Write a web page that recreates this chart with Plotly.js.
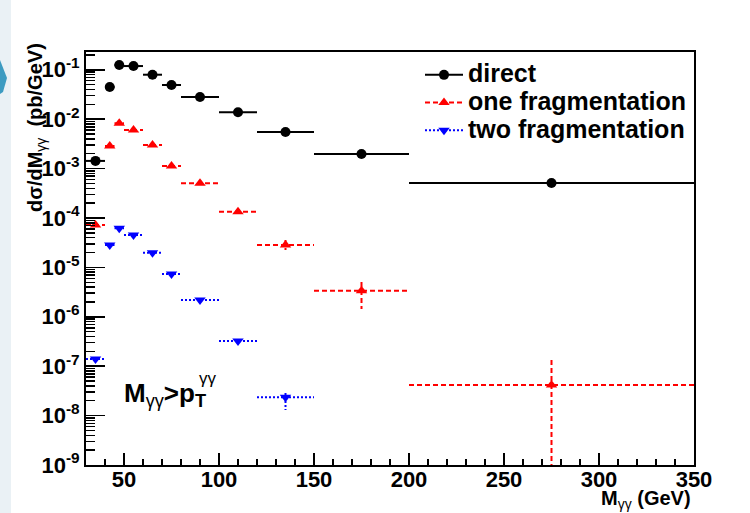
<!DOCTYPE html>
<html><head><meta charset="utf-8">
<script src="https://cdn.plot.ly/plotly-3.0.1.min.js"></script>
<style>html,body{margin:0;padding:0;background:#fff;} #chart{width:750px;height:513px;}</style>
</head><body><div id="chart"></div>
<script>
// ---- data ----
const binLow    = [30, 40, 45, 50, 60, 70, 80, 100, 120, 150, 200];
const binHigh   = [40, 45, 50, 60, 70, 80, 100, 120, 150, 200, 350];
const binCenter = [35, 42.5, 47.5, 55, 65, 75, 90, 110, 135, 175, 275];

const directY = [1.43e-3, 0.0448, 0.125, 0.119, 0.0795, 0.0492, 0.0281, 0.01377, 5.5e-3, 1.97e-3, 5.1e-4];

const oneFragY        = [7.2e-5, 2.86e-3, 8.26e-3, 6.04e-3, 3.0e-3, 1.13e-3, 5.03e-4, 1.34e-4, 2.84e-5, 3.37e-6, 4.16e-8];
const oneFragErrPlus  = [0, 0, 0, 0, 0, 0, 0, 0, 7.4e-6, 1.69e-6, 9.2e-8];
const oneFragErrMinus = [0, 0, 0, 0, 0, 0, 0, 0, 5.9e-6, 1.93e-6, 4.16e-8];

const twoFragY        = [1.40e-7, 2.84e-5, 6.18e-5, 4.52e-5, 1.98e-5, 7.34e-6, 2.19e-6, 3.24e-7, 2.34e-8];
const twoFragErrPlus  = [0, 0, 0, 0, 0, 0, 0, 0, 5.2e-9];
const twoFragErrMinus = [0, 0, 0, 0, 0, 0, 0, 0, 1.04e-8];

const seriesNames = ['direct', 'one fragmentation', 'two fragmentation'];
const yTickVals  = [1e-9, 1e-8, 1e-7, 1e-6, 1e-5, 1e-4, 1e-3, 1e-2, 1e-1];
const yTickText  = ['10<sup>-9</sup>','10<sup>-8</sup>','10<sup>-7</sup>','10<sup>-6</sup>','10<sup>-5</sup>','10<sup>-4</sup>','10<sup>-3</sup>','10<sup>-2</sup>','10<sup>-1</sup>'];

// ---- helpers ----
const FONT = 'Liberation Sans, Arial, Helvetica, sans-serif';
const FLOOR = 1e-12; // below visible range, clipped by plot area

function hSeg(y) {
  const xs = [], ys = [];
  for (let i = 0; i < y.length; i++) {
    xs.push(binLow[i], binHigh[i], null);
    ys.push(y[i], y[i], null);
  }
  return {xs, ys};
}
function vSeg(y, ep, em) {
  const xs = [], ys = [];
  for (let i = 0; i < y.length; i++) {
    if (ep[i] > 0 || em[i] > 0) {
      xs.push(binCenter[i], binCenter[i], null);
      ys.push(y[i] + ep[i], Math.max(y[i] - em[i], FLOOR), null);
    }
  }
  return {xs, ys};
}
function gapped(arr) {
  const out = [];
  arr.forEach(v => { out.push(v, null); });
  return out;
}

const styles = [
  {color: '#000000', dash: 'solid', symbol: 'circle', size: 10},
  {color: '#ff0000', dash: '5px,3px', symbol: 'triangle-up', size: 10},
  {color: '#0000ff', dash: '2px,2px', symbol: 'triangle-down', size: 10}
];
const ys = [directY, oneFragY, twoFragY];
const eps = [null, oneFragErrPlus, twoFragErrPlus];
const ems = [null, oneFragErrMinus, twoFragErrMinus];

const traces = [];
ys.forEach((y, k) => {
  const st = styles[k];
  const h = hSeg(y);
  traces.push({x: h.xs, y: h.ys, type: 'scatter', mode: 'lines', showlegend: false,
    line: {color: st.color, width: 2, dash: st.dash}, hoverinfo: 'skip'});
  if (eps[k]) {
    const v = vSeg(y, eps[k], ems[k]);
    traces.push({x: v.xs, y: v.ys, type: 'scatter', mode: 'lines', showlegend: false,
      line: {color: st.color, width: 2, dash: st.dash}, hoverinfo: 'skip'});
  }
});
ys.forEach((y, k) => {
  const st = styles[k];
  traces.push({
    x: gapped(binCenter.slice(0, y.length)), y: gapped(y),
    type: 'scatter', mode: 'lines+markers', connectgaps: false,
    name: '<span style="font-size:25px">' + seriesNames[k] + '</span>',
    line: {color: st.color, width: 2, dash: st.dash},
    marker: {color: st.color, symbol: st.symbol, size: st.size, line: {width: 0}}
  });
});

// pixel -> paper helpers for decorations/annotations
const L = 86, T = 52, W = 608, H = 413;
const px = p => (p - L) / W;
const py = p => (T + H - p) / H;

const layout = {
  width: 750, height: 513,
  margin: {l: L, r: 750 - L - W, t: T, b: 513 - T - H, pad: 0},
  paper_bgcolor: '#ffffff', plot_bgcolor: '#ffffff',
  font: {family: FONT, color: '#000'},
  showlegend: true,
  legend: {x: px(420), y: py(56), xanchor: 'left', yanchor: 'top', itemwidth: 38,
    bgcolor: 'rgba(0,0,0,0)', borderwidth: 0, tracegroupgap: 0,
    font: {family: FONT, size: 19, weight: 'bold', color: '#000'}},
  xaxis: {
    range: [30, 350], tick0: 0, dtick: 50,
    ticks: 'inside', ticklen: 12, tickwidth: 1.5, tickcolor: '#000',
    showline: true, linewidth: 2, linecolor: '#000', mirror: true,
    showgrid: false, zeroline: false, ticklabelstandoff: -6,
    tickfont: {family: FONT, size: 22, weight: 'bold', color: '#000'},
    minor: {dtick: 10, ticks: 'inside', ticklen: 6, tickwidth: 1.5, tickcolor: '#000', showgrid: false}
  },
  yaxis: {
    type: 'log', range: [-9, -0.64],
    tickmode: 'array', tickvals: yTickVals, ticktext: yTickText,
    ticks: 'inside', ticklen: 19, tickwidth: 1.5, tickcolor: '#000',
    showline: true, linewidth: 2, linecolor: '#000', mirror: true,
    showgrid: false, zeroline: false,
    tickfont: {family: FONT, size: 22, weight: 'bold', color: '#000'},
    minor: {dtick: 'D1', ticks: 'inside', ticklen: 9, tickwidth: 1.5, tickcolor: '#000', showgrid: false}
  },
  shapes: [
    {type: 'rect', xref: 'paper', yref: 'paper', x0: px(0), x1: px(11), y0: py(513), y1: py(0),
     fillcolor: '#eaf1f5', line: {width: 0}, layer: 'below'},
    {type: 'path', xref: 'paper', yref: 'paper',
     path: 'M ' + px(0) + ' ' + py(60) + ' L ' + px(7) + ' ' + py(78) + ' L ' + px(3) + ' ' + py(92) + ' L ' + px(0) + ' ' + py(94) + ' Z',
     fillcolor: '#3d9bc1', line: {width: 0}, layer: 'below'}
  ],
  annotations: [
    {xref: 'paper', yref: 'paper', x: px(36), y: py(128), xanchor: 'center', yanchor: 'middle',
     textangle: -90, showarrow: false,
     text: 'dσ/dM<sub><span style="font-weight:normal">γγ</span></sub>  (pb/GeV)',
     font: {family: FONT, size: 20, weight: 'bold', color: '#000'}},
    {xref: 'paper', yref: 'paper', x: px(693), y: py(499), xanchor: 'right', yanchor: 'middle',
     showarrow: false,
     text: 'M<sub><span style="font-weight:normal">γγ</span></sub> (GeV)',
     font: {family: FONT, size: 20, weight: 'bold', color: '#000'}},
    {xref: 'paper', yref: 'paper', x: px(122), y: py(394), xanchor: 'left', yanchor: 'middle',
     showarrow: false,
     text: 'M<sub><span style="font-weight:normal">γγ</span></sub>&gt;p<sub>T</sub>',
     font: {family: FONT, size: 26, weight: 'bold', color: '#000'}},
    {xref: 'paper', yref: 'paper', x: px(197), y: py(378), xanchor: 'left', yanchor: 'middle',
     showarrow: false, text: 'γγ',
     font: {family: FONT, size: 17, weight: 'normal', color: '#000'}}
  ]
};

Plotly.newPlot('chart', traces, layout, {displayModeBar: false, staticPlot: true});
</script>
</body></html>
